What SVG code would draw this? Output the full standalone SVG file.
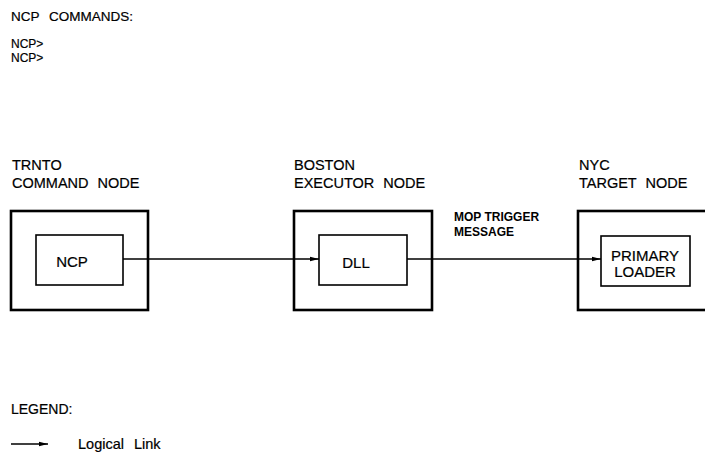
<svg xmlns="http://www.w3.org/2000/svg" width="705" height="456" viewBox="0 0 705 456">
<style>
text{font-family:"Liberation Sans",Arial,sans-serif;fill:#000;stroke:#000;stroke-width:0.2}
.lbl{font-size:14.5px;word-spacing:5px}
.outer{fill:none;stroke:#000;stroke-width:2.6}
.inner{fill:none;stroke:#000;stroke-width:1.6}
.link{fill:none;stroke:#000;stroke-width:1.5}
.in{font-size:15px;text-anchor:middle}
</style>
<defs>
<marker id="ah" markerWidth="10" markerHeight="6" refX="9" refY="3" orient="auto" markerUnits="userSpaceOnUse">
<path d="M0,0.8 L9,3 L0,5.2 Z" fill="#000"/>
</marker>
</defs>
<rect width="705" height="456" fill="#fff"/>
<g id="header">
<text x="11" y="21" font-size="13.5" style="word-spacing:6px">NCP COMMANDS:</text>
<text x="11" y="48" font-size="12">NCP&gt;</text>
<text x="11" y="62" font-size="12">NCP&gt;</text>
</g>
<g id="trnto">
<text class="lbl" x="12" y="170">TRNTO</text>
<text class="lbl" x="12" y="188">COMMAND NODE</text>
<rect class="outer" x="11" y="211" width="137" height="99"/>
<g id="ncp">
<rect class="inner" x="36" y="235" width="87" height="50"/>
<text class="in" x="72" y="267">NCP</text>
</g>
</g>
<g id="boston">
<text class="lbl" x="294" y="170">BOSTON</text>
<text class="lbl" x="294" y="188">EXECUTOR NODE</text>
<rect class="outer" x="294" y="211" width="138" height="99"/>
<g id="dll">
<rect class="inner" x="319" y="235" width="88" height="50"/>
<text class="in" x="356" y="268">DLL</text>
</g>
</g>
<g id="nyc">
<text class="lbl" x="579" y="170">NYC</text>
<text class="lbl" x="579" y="188">TARGET NODE</text>
<rect class="outer" x="578" y="211" width="140" height="99"/>
<g id="loader">
<rect class="inner" x="601" y="236" width="89" height="50"/>
<text class="in" x="645" y="261">PRIMARY</text>
<text class="in" x="645" y="277">LOADER</text>
</g>
</g>
<g id="connectors">
<line class="link" x1="123" y1="259" x2="319" y2="259" marker-end="url(#ah)"/>
<line class="link" x1="407" y1="259" x2="601" y2="259" marker-end="url(#ah)"/>
<text x="454" y="221" font-size="12" font-weight="bold" style="stroke-width:0">MOP TRIGGER</text>
<text x="454" y="236" font-size="12" font-weight="bold" style="stroke-width:0">MESSAGE</text>
</g>
<g id="legend">
<text x="11" y="414" font-size="14">LEGEND:</text>
<line class="link" x1="11" y1="444" x2="48" y2="444" marker-end="url(#ah)"/>
<text x="78" y="449" font-size="14.5" style="word-spacing:6px">Logical Link</text>
</g>
</svg>
